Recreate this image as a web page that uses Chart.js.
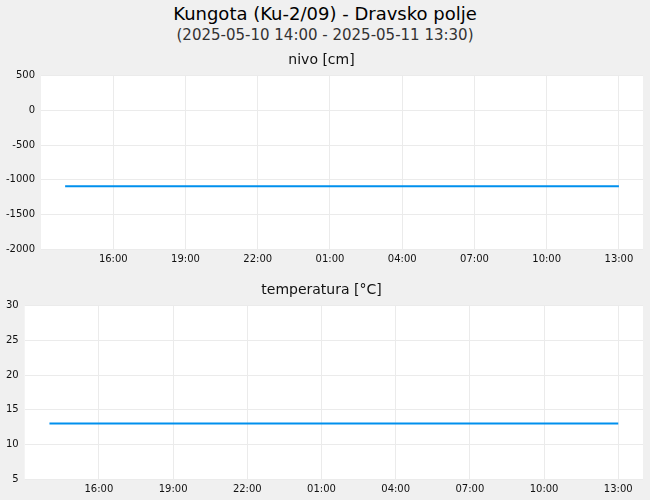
<!DOCTYPE html>
<html lang="sl">
<head>
  <meta charset="UTF-8">
  <title>Kungota (Ku-2/09) - Dravsko polje</title>
  <script src="https://cdn.jsdelivr.net/npm/chart.js"></script>
  <style>
    body { margin: 0; background: #f0f0f0; font-family: "DejaVu Sans", sans-serif; }
    #wrap { position: relative; width: 650px; height: 500px; overflow: hidden; }
    #t1 { position: absolute; top: 3px; left: 0; width: 650px; text-align: center; font-size: 18px; color: #000; }
    #t2 { position: absolute; top: 26px; left: 0; width: 650px; text-align: center; font-size: 15px; color: #333; }
    #c1 { position: absolute; top: 50px; left: 0; }
    #c2 { position: absolute; top: 280px; left: 0; }
  </style>
</head>
<body>
  <div id="wrap">
    <div id="t1">Kungota (Ku-2/09) - Dravsko polje</div>
    <div id="t2">(2025-05-10 14:00 - 2025-05-11 13:30)</div>
    <canvas id="c1" width="650" height="224"></canvas>
    <canvas id="c2" width="650" height="220"></canvas>
  </div>

  <script>
    // ure od 2025-05-10 00:00 (14 = 14:00, 37 = naslednji dan 13:00)
    const hours = [14, 15, 16, 17, 18, 19, 20, 21, 22, 23, 24, 25, 26, 27, 28, 29, 30, 31, 32, 33, 34, 35, 36, 37];
    const nivo = [-1095, -1095, -1095, -1095, -1095, -1095, -1095, -1095, -1095, -1095, -1095, -1095,
                  -1095, -1095, -1095, -1095, -1095, -1095, -1095, -1095, -1095, -1095, -1095, -1095];
    const temperatura = [13.0, 13.0, 13.0, 13.0, 13.0, 13.0, 13.0, 13.0, 13.0, 13.0, 13.0, 13.0,
                         13.0, 13.0, 13.0, 13.0, 13.0, 13.0, 13.0, 13.0, 13.0, 13.0, 13.0, 13.0];
    const xTicks = [16, 19, 22, 25, 28, 31, 34, 37];
    const nivoTicks = [500, 0, -500, -1000, -1500, -2000];
    const tempTicks = [30, 25, 20, 15, 10, 5];

    const plotBg = {
      id: 'plotBg',
      beforeDraw(chart) {
        const { ctx, chartArea: a } = chart;
        ctx.save();
        ctx.fillStyle = '#f0f0f0';
        ctx.fillRect(0, 0, chart.width, chart.height);
        ctx.fillStyle = '#ffffff';
        ctx.fillRect(a.left, a.top, a.right - a.left, a.bottom - a.top);
        ctx.restore();
      }
    };

    function fmtHour(v) {
      return String(v % 24).padStart(2, '0') + ':00';
    }

    function makeChart(id, title, values, yTicks, pad) {
      return new Chart(document.getElementById(id), {
        type: 'line',
        data: {
          datasets: [{
            data: hours.map((h, i) => ({ x: h, y: values[i] })),
            borderColor: '#0090ee',
            borderWidth: 2,
            pointRadius: 0,
            tension: 0
          }]
        },
        options: {
          responsive: false,
          animation: false,
          layout: { padding: pad },
          plugins: {
            legend: { display: false },
            tooltip: { enabled: false },
            title: {
              display: true,
              text: title,
              color: '#111',
              font: { family: 'DejaVu Sans', size: 14, weight: 'normal' },
              padding: { top: 2, bottom: 7 }
            }
          },
          scales: {
            x: {
              type: 'linear',
              min: 13,
              max: 38,
              afterBuildTicks: s => { s.ticks = xTicks.map(v => ({ value: v })); },
              ticks: {
                callback: v => fmtHour(v),
                color: '#111',
                font: { family: 'DejaVu Sans', size: 10 },
                padding: 4,
                maxRotation: 0
              },
              grid: { color: '#ebebeb', drawTicks: false },
              border: { display: false }
            },
            y: {
              min: yTicks[yTicks.length - 1],
              max: yTicks[0],
              afterBuildTicks: s => { s.ticks = yTicks.map(v => ({ value: v })); },
              ticks: {
                callback: v => String(v),
                color: '#111',
                font: { family: 'DejaVu Sans', size: 10 },
                padding: 6
              },
              grid: { color: '#ebebeb', drawTicks: false },
              border: { display: false }
            }
          }
        },
        plugins: [plotBg]
      });
    }

    makeChart('c1', 'nivo [cm]', nivo, nivoTicks, { left: 0, right: 7, bottom: 5, top: 0 });
    makeChart('c2', 'temperatura [°C]', temperatura, tempTicks, { left: 0, right: 7, bottom: 1, top: 0 });
  </script>
</body>
</html>
